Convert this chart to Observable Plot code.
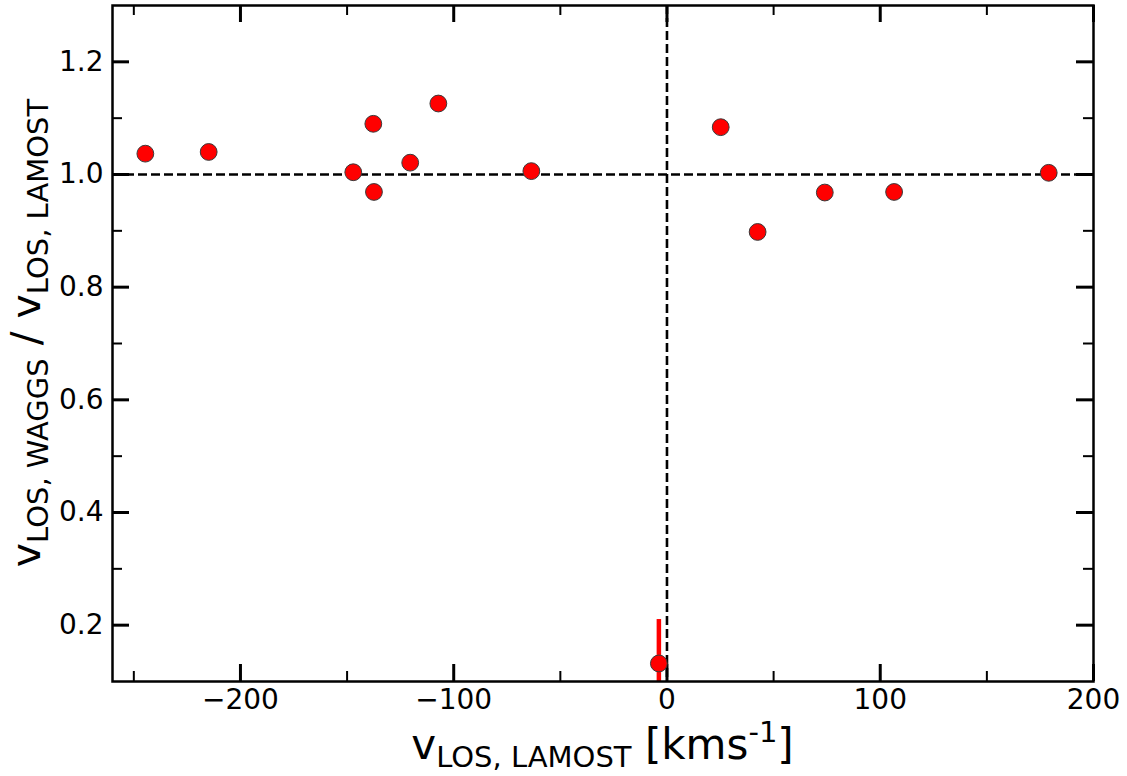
<!DOCTYPE html>
<html>
<head>
<meta charset="utf-8">
<script src="https://cdn.jsdelivr.net/npm/d3@7"></script>
<script src="https://cdn.jsdelivr.net/npm/@observablehq/plot@0.6"></script>
<style>
  html, body { margin: 0; padding: 0; background: #fff; }
  #chart svg { display: block; font-family: "DejaVu Sans", sans-serif; }
</style>
</head>
<body>
<div id="chart"></div>
<script>
// ---- data ----
const vLamost = [-244.6, -214.9, -147.1, -137.7, -137.4, -120.4, -107.2, -63.6, 25.2, 42.5, 74.0, 106.5, 179.0, -3.8];
const ratio   = [1.037, 1.040, 1.004, 1.090, 0.969, 1.021, 1.126, 1.006, 1.084, 0.898, 0.968, 0.969, 1.003, 0.132];
const ratioErr = [0, 0, 0, 0, 0, 0, 0, 0, 0, 0, 0, 0, 0, 0.078];

const xMajor = [-200, -100, 0, 100, 200];
const xMinor = [-250, -150, -50, 50, 150];
const yMajor = [0.2, 0.4, 0.6, 0.8, 1.0, 1.2];
const yMinor = [0.3, 0.5, 0.7, 0.9, 1.1];
const refX = [0];
const refY = [1.0];

// ---- layout ----
const W = 1127, H = 776;
const mL = 112, mR = 34, mT = 5, mB = 95;
const innerW = W - mL - mR, innerH = H - mT - mB;
const majLen = 17, minLen = 10;

const pts = vLamost.map((v, i) => ({x: v, y: ratio[i], e: ratioErr[i]}));
const errPts = pts.filter(d => d.e > 0);

const fmtX = d => d < 0 ? "\u2212" + Math.abs(d) : String(d);
const fmtY = d => d.toFixed(1);

const chart = Plot.plot({
  width: W, height: H,
  marginLeft: mL, marginRight: mR, marginTop: mT, marginBottom: mB,
  style: {fontFamily: "DejaVu Sans", background: "#fff", color: "#000"},
  x: {domain: [-260, 200]},
  y: {domain: [0.1, 1.3]},
  marks: [
    // tick labels
    Plot.axisX(xMajor, {anchor: "bottom", tickSize: 0, tickPadding: 8, tickFormat: fmtX, fontSize: 28, label: null}),
    Plot.axisY(yMajor, {anchor: "left", tickSize: 0, tickPadding: 9, tickFormat: fmtY, fontSize: 28, label: null}),
    // reference dashed lines
    Plot.ruleY(refY, {stroke: "#000", strokeWidth: 2.6, strokeDasharray: "9,4"}),
    Plot.ruleX(refX, {stroke: "#000", strokeWidth: 2.6, strokeDasharray: "9,4"}),
    // inward ticks, all four sides
    Plot.tickX(xMajor, {x: d => d, insetTop: innerH - majLen, stroke: "#000", strokeWidth: 3}),
    Plot.tickX(xMajor, {x: d => d, insetBottom: innerH - majLen, stroke: "#000", strokeWidth: 3}),
    Plot.tickX(xMinor, {x: d => d, insetTop: innerH - minLen, stroke: "#000", strokeWidth: 2}),
    Plot.tickX(xMinor, {x: d => d, insetBottom: innerH - minLen, stroke: "#000", strokeWidth: 2}),
    Plot.tickY(yMajor, {y: d => d, insetRight: innerW - majLen, stroke: "#000", strokeWidth: 3}),
    Plot.tickY(yMajor, {y: d => d, insetLeft: innerW - majLen, stroke: "#000", strokeWidth: 3}),
    Plot.tickY(yMinor, {y: d => d, insetRight: innerW - minLen, stroke: "#000", strokeWidth: 2}),
    Plot.tickY(yMinor, {y: d => d, insetLeft: innerW - minLen, stroke: "#000", strokeWidth: 2}),
    // error bar
    Plot.ruleX(errPts, {x: "x", y1: d => d.y - d.e, y2: d => d.y + d.e, stroke: "#ff0000", strokeWidth: 4.5, clip: true}),
    // points
    Plot.dot(pts, {x: "x", y: "y", r: 8.4, fill: "#ff0000", stroke: "#3a3a3a", strokeWidth: 1}),
    Plot.frame({stroke: "#000", strokeWidth: 2.5})
  ]
});

document.getElementById("chart").appendChild(chart);

// ---- axis titles with sub/superscripts ----
const svg = d3.select(chart);
const F = 42, S = 29, sub = 8, sup = 17;

const xl = svg.append("text")
  .attr("x", mL + innerW / 2).attr("y", 759)
  .attr("text-anchor", "middle")
  .attr("font-family", "DejaVu Sans").attr("font-size", F).attr("fill", "#000");
xl.append("tspan").text("v");
xl.append("tspan").attr("font-size", S).attr("dy", sub).text("LOS, LAMOST");
xl.append("tspan").attr("dy", -sub).text("\u00a0[kms");
xl.append("tspan").attr("font-size", S).attr("dy", -sup).text("-1");
xl.append("tspan").attr("dy", sup).text("]");

const yl = svg.append("text")
  .attr("transform", `translate(40,333) rotate(-90)`)
  .attr("text-anchor", "middle")
  .attr("font-family", "DejaVu Sans").attr("font-size", 41).attr("fill", "#000");
yl.append("tspan").text("v");
yl.append("tspan").attr("font-size", S).attr("dy", sub).text("LOS, WAGGS");
yl.append("tspan").attr("dy", -sub).text("\u00a0/\u00a0v");
yl.append("tspan").attr("font-size", S).attr("dy", sub).text("LOS, LAMOST");
</script>
</body>
</html>
